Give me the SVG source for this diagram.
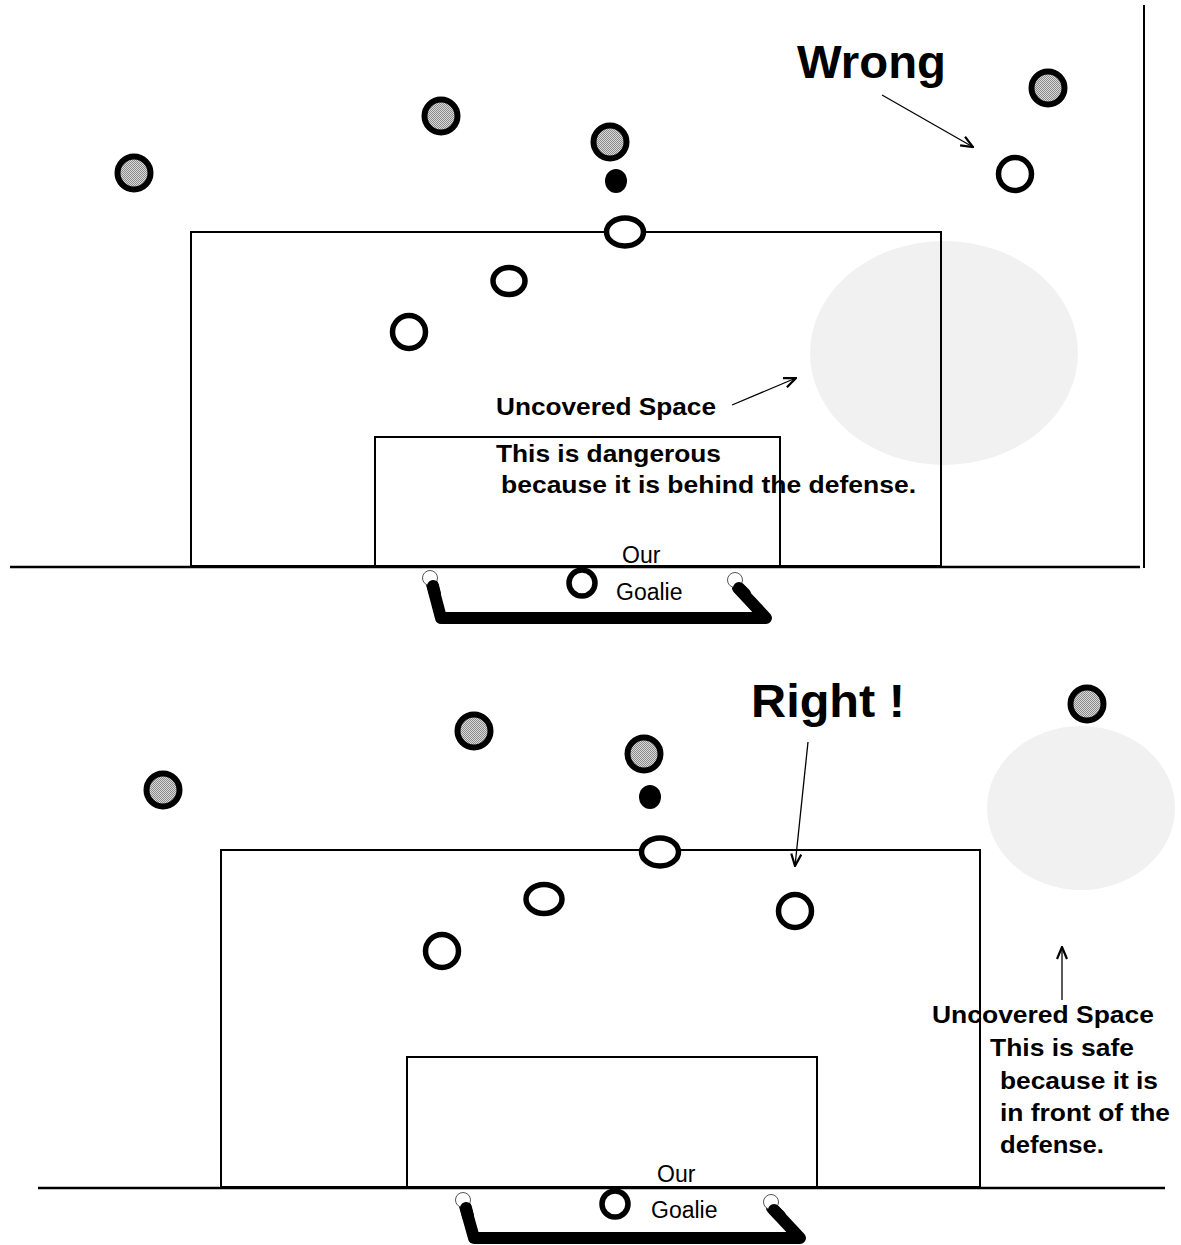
<svg xmlns="http://www.w3.org/2000/svg" width="1181" height="1245" viewBox="0 0 1181 1245">
<style>
  .line { stroke:#000; stroke-width:2; fill:none; }
  .ground { stroke:#000; stroke-width:2.5; fill:none; }
  .space { fill:#f1f1f1; stroke:none; }
  .opp { fill:url(#dots); stroke:#000; stroke-width:6; }
  .own { fill:#fff; stroke:#000; stroke-width:5.5; }
  .ball { fill:#000; }
  .goal { stroke:#000; stroke-width:12; fill:none; stroke-linecap:round; stroke-linejoin:round; }
  .post { fill:#fff; stroke:#555; stroke-width:1; }
  .arrow { stroke:#000; stroke-width:1.3; fill:none; marker-end:url(#ah); }
  .t { font-family:"Liberation Sans", Arial, sans-serif; fill:#000; }
  .b { font-weight:bold; font-size:23px; }
  .big { font-weight:bold; font-size:47px; }
  .n { font-size:23px; }
</style>
<defs>
  <pattern id="dots" width="2" height="2" patternUnits="userSpaceOnUse">
    <rect width="2" height="2" fill="#d8d8d8"/>
    <rect width="1" height="1" fill="#8c8c8c"/>
    <rect x="1" y="1" width="1" height="1" fill="#8c8c8c"/>
  </pattern>
  <marker id="ah" viewBox="0 0 14 12" refX="13" refY="6" markerWidth="14" markerHeight="12" markerUnits="userSpaceOnUse" orient="auto">
    <path d="M1,1 L13,6 L1,11" fill="none" stroke="#000" stroke-width="2.2"/>
  </marker>
</defs>
<rect width="1181" height="1245" fill="#fff"/>

<!-- ============ TOP PANEL (Wrong) ============ -->
<g id="top-field">
  <ellipse id="top-space" class="space" cx="944" cy="353" rx="134" ry="112"/>
  <rect class="line" x="191" y="232" width="750" height="334"/>
  <rect class="line" x="375" y="437" width="405" height="129"/>
  <line class="ground" x1="10" y1="567" x2="1140" y2="567"/>
  <line class="line" x1="1144" y1="5" x2="1144" y2="568"/>
</g>
<g id="top-goal">
  <path class="goal" d="M432,584 L441,618 L766,618 L738,588"/>
  <circle class="post" cx="430" cy="578" r="7.5"/>
  <circle class="post" cx="735" cy="580" r="7.5"/>
  <path class="goal" d="M433,586 L435,594"/>
  <path class="goal" d="M739,588 L745,594"/>
  <circle id="top-goalie" class="own" cx="582" cy="583" r="13"/>
</g>
<g id="top-opponents">
  <circle class="opp" cx="134" cy="173" r="16.5"/>
  <circle class="opp" cx="441" cy="116" r="16.5"/>
  <circle class="opp" cx="610" cy="142" r="16.5"/>
  <circle class="opp" cx="1048" cy="88" r="16.5"/>
</g>
<g id="top-ball"><ellipse class="ball" cx="616" cy="181" rx="11" ry="12"/></g>
<g id="top-defenders">
  <ellipse class="own" cx="625" cy="232" rx="18.5" ry="14"/>
  <ellipse class="own" cx="509" cy="281" rx="16" ry="13.5"/>
  <circle class="own" cx="409" cy="332" r="16.5"/>
  <circle class="own" cx="1015" cy="174" r="16.5"/>
</g>
<g id="top-labels">
  <text class="t big" x="797" y="78" textLength="149" lengthAdjust="spacingAndGlyphs">Wrong</text>
  <text class="t b" x="496" y="415" textLength="220" lengthAdjust="spacingAndGlyphs">Uncovered Space</text>
  <text class="t b" x="496" y="462" textLength="225" lengthAdjust="spacingAndGlyphs">This is dangerous</text>
  <text class="t b" x="501" y="493" textLength="415" lengthAdjust="spacingAndGlyphs">because it is behind the defense.</text>
  <text class="t n" x="622" y="563">Our</text>
  <text class="t n" x="616" y="600">Goalie</text>
</g>

<!-- ============ BOTTOM PANEL (Right) ============ -->
<g id="bottom-field">
  <ellipse id="bottom-space" class="space" cx="1081" cy="808" rx="94" ry="82"/>
  <rect class="line" x="221" y="850" width="759" height="337"/>
  <rect class="line" x="407" y="1057" width="410" height="130"/>
  <line class="ground" x1="38" y1="1188" x2="1165" y2="1188"/>
</g>
<g id="bottom-goal">
  <path class="goal" d="M465,1206 L474,1238 L800,1238 L772,1208"/>
  <circle class="post" cx="463" cy="1200" r="7.5"/>
  <circle class="post" cx="771" cy="1202" r="7.5"/>
  <path class="goal" d="M466,1208 L468,1216"/>
  <path class="goal" d="M774,1210 L780,1216"/>
  <circle id="bottom-goalie" class="own" cx="615" cy="1204" r="13"/>
</g>
<g id="bottom-opponents">
  <circle class="opp" cx="163" cy="790" r="16.5"/>
  <circle class="opp" cx="474" cy="731" r="16.5"/>
  <circle class="opp" cx="644" cy="754" r="16.5"/>
  <circle class="opp" cx="1087" cy="704" r="16.5"/>
</g>
<g id="bottom-ball"><ellipse class="ball" cx="650" cy="797" rx="11" ry="12"/></g>
<g id="bottom-defenders">
  <ellipse class="own" cx="660" cy="852" rx="18.5" ry="14"/>
  <ellipse class="own" cx="544" cy="899" rx="18" ry="14.5"/>
  <circle class="own" cx="442" cy="951" r="16.5"/>
  <circle class="own" cx="795" cy="911" r="16.5"/>
</g>
<g id="bottom-labels">
  <text class="t big" x="751" y="717" textLength="154" lengthAdjust="spacingAndGlyphs">Right !</text>
  <text class="t b" x="932" y="1023" textLength="222" lengthAdjust="spacingAndGlyphs">Uncovered Space</text>
  <text class="t b" x="990" y="1056" textLength="144" lengthAdjust="spacingAndGlyphs">This is safe</text>
  <text class="t b" x="1000" y="1089" textLength="158" lengthAdjust="spacingAndGlyphs">because it is</text>
  <text class="t b" x="1000" y="1121" textLength="170" lengthAdjust="spacingAndGlyphs">in front of the</text>
  <text class="t b" x="1000" y="1153" textLength="104" lengthAdjust="spacingAndGlyphs">defense.</text>
  <text class="t n" x="657" y="1182">Our</text>
  <text class="t n" x="651" y="1218">Goalie</text>
</g>

<g id="connectors">
  <line class="arrow" x1="882" y1="95" x2="973" y2="147"/>
  <line class="arrow" x1="732" y1="405" x2="796" y2="378"/>
  <line class="arrow" x1="808" y1="742" x2="795" y2="866"/>
  <line class="arrow" x1="1062" y1="1000" x2="1062" y2="947"/>
</g>
</svg>
